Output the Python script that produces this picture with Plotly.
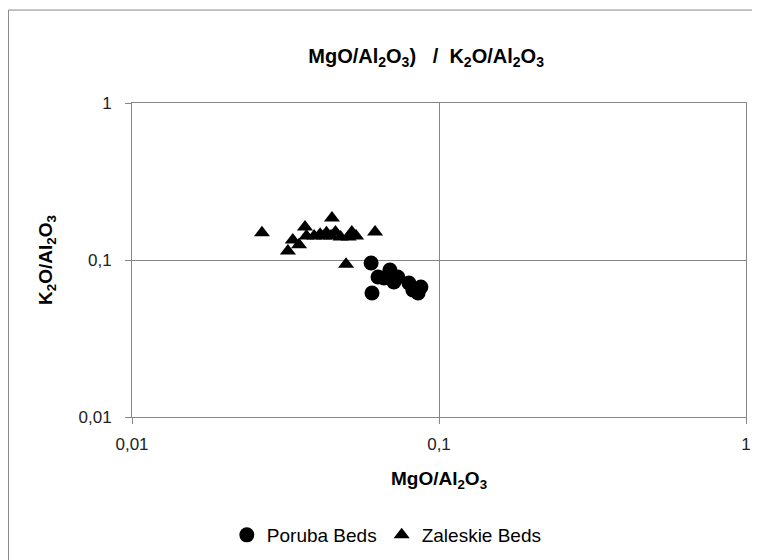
import plotly.graph_objects as go

# Poruba Beds (circles)
poruba_mgo = [0.0601, 0.0605, 0.0633, 0.0662, 0.0692, 0.0713, 0.0734, 0.0798, 0.0822, 0.0855, 0.0873]
poruba_k2o = [0.0957, 0.0616, 0.0780, 0.0768, 0.0863, 0.0724, 0.0780, 0.0714, 0.0644, 0.0616, 0.0673]

# Zaleskie Beds (triangles)
zaleskie_mgo = [0.0265, 0.0322, 0.0334, 0.0350, 0.0366, 0.0370, 0.0392, 0.0410, 0.0422, 0.0430,
                0.0445, 0.0448, 0.0460, 0.0478, 0.0498, 0.0508, 0.0520, 0.0537, 0.0619]
zaleskie_k2o = [0.149, 0.114, 0.134, 0.125, 0.162, 0.142, 0.142, 0.146, 0.142, 0.149,
                0.142, 0.185, 0.151, 0.140, 0.094, 0.140, 0.151, 0.142, 0.151]

tick_vals = [0.01, 0.1, 1]
tick_text = ["0,01", "0,1", "1"]

FONT = "Liberation Sans"
GRAY = "#868686"

fig = go.Figure()
fig.add_trace(go.Scatter(x=poruba_mgo, y=poruba_k2o, mode="markers", name="Poruba Beds",
                         marker=dict(symbol="circle", size=15, color="black")))
fig.add_trace(go.Scatter(x=zaleskie_mgo, y=zaleskie_k2o, mode="markers", name="Zaleskie Beds",
                         marker=dict(symbol="triangle-up", size=14, color="black")))

axis_common = dict(type="log", range=[-2, 0], tickvals=tick_vals, ticktext=tick_text,
                   showgrid=True, gridcolor=GRAY, gridwidth=1,
                   showline=True, linecolor=GRAY, linewidth=1, mirror=True,
                   ticks="outside", ticklen=6, tickcolor=GRAY,
                   tickfont=dict(family=FONT, size=17, color="#222"),
                   zeroline=False, automargin=False)

fig.update_layout(
    width=752, height=552,
    margin=dict(l=124, r=14, t=95, b=143),
    paper_bgcolor="white", plot_bgcolor="white",
    font=dict(family=FONT, color="black"),
    title=dict(text="<b>MgO/Al<sub>2</sub>O<sub>3</sub>)   /  K<sub>2</sub>O/Al<sub>2</sub>O<sub>3</sub></b>",
               x=0.479, xref="paper", xanchor="center", y=0.913, yref="container", yanchor="middle",
               font=dict(family=FONT, size=20, color="black")),
    xaxis=dict(**axis_common, ticklabelstandoff=6,
               title=dict(text="<b>MgO/Al<sub>2</sub>O<sub>3</sub></b>", standoff=18,
                          font=dict(family=FONT, size=19, color="black"))),
    yaxis=dict(**axis_common, ticklabelstandoff=10,
               title=dict(text="<b>K<sub>2</sub>O/Al<sub>2</sub>O<sub>3</sub></b>", standoff=20,
                          font=dict(family=FONT, size=19, color="black"))),
    legend=dict(orientation="h", x=0.415, xanchor="center",
                yref="container", y=1 - 527 / 552, yanchor="middle",
                font=dict(family=FONT, size=19, color="black"), itemwidth=30,
                bgcolor="rgba(0,0,0,0)"),
    showlegend=True,
    shapes=[dict(type="rect", xref="paper", yref="paper", x0=-0.2012, x1=1.05, y0=-0.5, y1=1.296,
                 line=dict(color=GRAY, width=1), fillcolor="rgba(0,0,0,0)", layer="below")],
)

fig.write_html("out.html")
